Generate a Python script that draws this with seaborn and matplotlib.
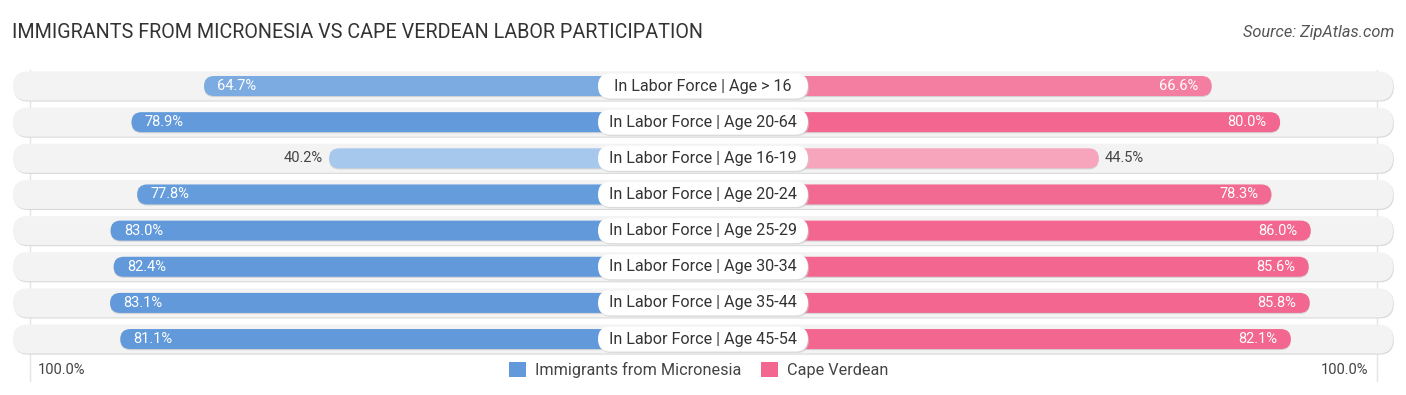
import numpy as np
import pandas as pd
import seaborn as sns
import matplotlib.pyplot as plt
from matplotlib.colors import to_rgb
from matplotlib.patches import FancyBboxPatch, Patch

# chart data
categories = ['In Labor Force | Age > 16', 'In Labor Force | Age 20-64', 'In Labor Force | Age 16-19',
              'In Labor Force | Age 20-24', 'In Labor Force | Age 25-29', 'In Labor Force | Age 30-34',
              'In Labor Force | Age 35-44', 'In Labor Force | Age 45-54']
micronesia = [64.7, 78.9, 40.2, 77.8, 83.0, 82.4, 83.1, 81.1]
cape_verdean = [66.6, 80.0, 44.5, 78.3, 86.0, 85.6, 85.8, 82.1]
series_names = ['Immigrants from Micronesia', 'Cape Verdean']

BLUE_FULL, BLUE_LIGHT = '#6199da', '#abcbee'
PINK_FULL, PINK_LIGHT = '#f2668f', '#f8b0c6'
OFFSET = 33.0          # half width of the centre label, in % units
PX_PER_UNIT = 5.107    # horizontal pixels per percent
ROW_PX = 36.15         # vertical pixels per row

sns.set_theme(style='white')
plt.rcParams['font.family'] = ['Roboto', 'DejaVu Sans']


def shade(full, light, v):
    t = np.clip((v - 38) / 42, 0, 1)
    f, l = np.array(to_rgb(full)), np.array(to_rgb(light))
    return tuple(l + (f - l) * t)


df = pd.DataFrame({'cat': categories, 'left': [-v for v in micronesia], 'right': cape_verdean})

fig = plt.figure(figsize=(14.06, 3.95), dpi=100)
ax = fig.add_axes([0, 0, 1, 1])
half_w = 703 / PX_PER_UNIT
aspect = PX_PER_UNIT / ROW_PX

# bars through seaborn, then redrawn as rounded pills
bar_h = 20 / ROW_PX
sns.barplot(data=df, y='cat', x='left', left=-OFFSET, width=bar_h, color=BLUE_FULL, ax=ax, orient='y')
sns.barplot(data=df, y='cat', x='right', left=OFFSET, width=bar_h, color=PINK_FULL, ax=ax, orient='y')
ax.set_xlim(-half_w, 1406 / PX_PER_UNIT - half_w)
ax.set_ylim((395 - 86) / ROW_PX, -86 / ROW_PX)
ax.axis('off')

# row backgrounds
bg_half = 690 / PX_PER_UNIT
for i in range(len(categories)):
    h = 29 / ROW_PX
    for dx, dy, col in [(0.15, 0.03, '#d9d9d9'), (0, 0, '#f3f3f3')]:
        ax.add_patch(FancyBboxPatch((-bg_half + dx, i - h / 2 + dy), 2 * bg_half, h,
                                    boxstyle=f'round,pad=0,rounding_size={14.5 / PX_PER_UNIT}',
                                    mutation_aspect=aspect, facecolor=col, edgecolor='none', zorder=1))

# faint guide lines at the 100% marks
for xp in (30, 1377):
    ax.plot([(xp - 703) / PX_PER_UNIT] * 2, [-0.45, 8.15], color='#e4e4e4', lw=1, zorder=0.5)

bars = list(ax.patches[:len(categories) * 2])
for k, bar in enumerate(bars):
    i = k % len(categories)
    is_left = k < len(categories)
    x0 = bar.get_x()
    x1 = x0 + bar.get_width()
    far = min(x0, x1) if is_left else max(x0, x1)
    v = micronesia[i] if is_left else cape_verdean[i]
    col = shade(BLUE_FULL, BLUE_LIGHT, v) if is_left else shade(PINK_FULL, PINK_LIGHT, v)
    bar.set_visible(False)
    lo, hi = (far, 0) if is_left else (0, far)
    ax.add_patch(FancyBboxPatch((lo, bar.get_y() + 0.03), hi - lo, bar.get_height(),
                                boxstyle=f'round,pad=0,rounding_size={10 / PX_PER_UNIT}',
                                mutation_aspect=aspect, facecolor='#999999', alpha=0.35,
                                edgecolor='none', zorder=2))
    ax.add_patch(FancyBboxPatch((lo, bar.get_y()), hi - lo, bar.get_height(),
                                boxstyle=f'round,pad=0,rounding_size={10 / PX_PER_UNIT}',
                                mutation_aspect=aspect, facecolor=col, edgecolor='none', zorder=3))
    yc = bar.get_y() + bar.get_height() / 2
    txt = f'{v:.1f}%'
    if v > 55:
        xt = far + 2.6 if is_left else far - 2.6
        ax.text(xt, yc, txt, ha='left' if is_left else 'right', va='center',
                color='white', fontsize=10.5, zorder=5)
    else:
        xt = far - 1.2 if is_left else far + 1.2
        ax.text(xt, yc, txt, ha='right' if is_left else 'left', va='center',
                color='#444444', fontsize=10.5, zorder=5)

# centre labels in fixed-width white pills
lab_w, lab_h = 210 / PX_PER_UNIT, 25 / ROW_PX
for i, cat in enumerate(categories):
    ax.add_patch(FancyBboxPatch((-lab_w / 2 + 0.2, i - lab_h / 2 + 0.04), lab_w, lab_h,
                                boxstyle=f'round,pad=0,rounding_size={12.5 / PX_PER_UNIT}',
                                mutation_aspect=aspect, facecolor='#cccccc', alpha=0.6,
                                edgecolor='none', zorder=5))
    ax.add_patch(FancyBboxPatch((-lab_w / 2, i - lab_h / 2), lab_w, lab_h,
                                boxstyle=f'round,pad=0,rounding_size={12.5 / PX_PER_UNIT}',
                                mutation_aspect=aspect, facecolor='white', edgecolor='none', zorder=6))
    ax.text(0, i, cat, ha='center', va='center', fontsize=11.6, color='#333333', zorder=7)

# title, source, axis end labels, legend
fig.text(12 / 1406, 1 - 33 / 395, 'IMMIGRANTS FROM MICRONESIA VS CAPE VERDEAN LABOR PARTICIPATION',
         ha='left', va='center', fontsize=14.2, color='#333333')
fig.text(1394 / 1406, 1 - 33 / 395, 'Source: ZipAtlas.com', ha='right', va='center',
         fontsize=11.8, color='#555555', style='italic')
fig.text(38 / 1406, 1 - 370 / 395, '100.0%', ha='left', va='center', fontsize=10.5, color='#444444')
fig.text(1368 / 1406, 1 - 370 / 395, '100.0%', ha='right', va='center', fontsize=10.5, color='#444444')

handles = [Patch(facecolor=BLUE_FULL, edgecolor='none'), Patch(facecolor=PINK_FULL, edgecolor='none')]
fig.legend(handles, series_names, loc='center', bbox_to_anchor=(699 / 1406, 1 - 370 / 395), ncol=2,
           frameon=False, fontsize=11.7, handlelength=1.0, handleheight=1.1, handletextpad=0.6,
           columnspacing=1.2, labelcolor='#444444')

fig.savefig('out.png', dpi=100)
